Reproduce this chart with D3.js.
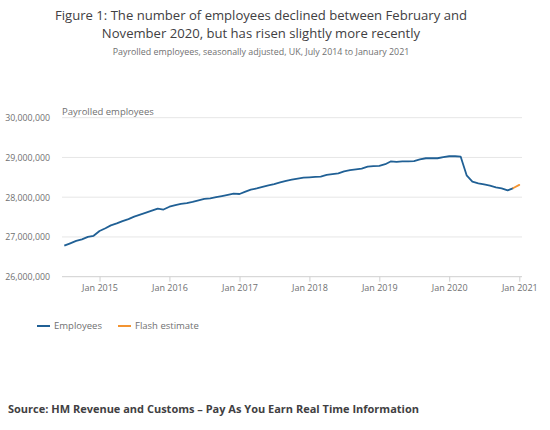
<!DOCTYPE html>
<html>
<head>
<meta charset="utf-8">
<script src="https://cdn.jsdelivr.net/npm/d3@7"></script>
<style>
  body { margin: 0; background: #fff; font-family: "Open Sans", sans-serif; }
  svg text { font-family: "Open Sans", sans-serif; }
</style>
</head>
<body>
<svg width="550" height="430"></svg>
<script>
// monthly payrolled employees, millions, Jul 2014 - Dec 2020
var startMonth = "2014-07";
var employees = [
  26.78, 26.84, 26.90, 26.94, 27.00, 27.03,                                     // 2014 Jul-Dec
  27.15, 27.22, 27.29, 27.34, 27.40, 27.45, 27.51, 27.56, 27.61, 27.66, 27.71, 27.69, // 2015
  27.76, 27.80, 27.83, 27.85, 27.88, 27.92, 27.96, 27.97, 28.00, 28.03, 28.06, 28.09, // 2016
  28.08, 28.14, 28.19, 28.22, 28.26, 28.30, 28.33, 28.37, 28.41, 28.44, 28.47, 28.49, // 2017
  28.50, 28.51, 28.52, 28.56, 28.58, 28.60, 28.65, 28.68, 28.70, 28.72, 28.77, 28.78, // 2018
  28.79, 28.83, 28.90, 28.89, 28.90, 28.90, 28.91, 28.95, 28.98, 28.98, 28.98, 29.01, // 2019
  29.03, 29.03, 29.02, 28.55, 28.39, 28.35, 28.32, 28.29, 28.25, 28.22, 28.17, 28.23  // 2020
];
// flash estimate: Dec 2020 -> Jan 2021
var flashMonths = ["2020-12", "2021-01"];
var flash = [28.23, 28.31];

var yTicks = [26000000, 27000000, 28000000, 29000000, 30000000];
var xTickYears = [2015, 2016, 2017, 2018, 2019, 2020, 2021];
var titleLines = [
  "Figure 1: The number of employees declined between February and",
  "November 2020, but has risen slightly more recently"
];
var subtitle = "Payrolled employees, seasonally adjusted, UK, July 2014 to January 2021";
var source = "Source: HM Revenue and Customs \u2013 Pay As You Earn Real Time Information";

var parseMonth = d3.timeParse("%Y-%m");
var t0 = parseMonth(startMonth);
var empData = employees.map(function(v, i) {
  return { date: d3.timeMonth.offset(t0, i), value: v * 1e6 };
});
var flashData = flash.map(function(v, i) {
  return { date: parseMonth(flashMonths[i]), value: v * 1e6 };
});

var svg = d3.select("svg");

var x = d3.scaleTime()
    .domain([t0, parseMonth("2021-01")])
    .range([64.3, 519.3]);
var y = d3.scaleLinear()
    .domain([26000000, 30000000])
    .range([276.7, 117.7]);

// titles
svg.selectAll(".title")
  .data(titleLines)
  .enter().append("text")
    .attr("class", "title")
    .attr("x", 261)
    .attr("y", function(d, i) { return 19.5 + i * 18; })
    .attr("text-anchor", "middle")
    .style("font-size", "13.1px")
    .style("fill", "#414042")
    .text(function(d) { return d; });

svg.append("text")
    .attr("x", 261)
    .attr("y", 54.5)
    .attr("text-anchor", "middle")
    .style("font-size", "8.9px")
    .style("fill", "#707071")
    .text(subtitle);

// gridlines
svg.selectAll(".grid")
  .data(yTicks)
  .enter().append("line")
    .attr("class", "grid")
    .attr("x1", 62)
    .attr("x2", 522)
    .attr("y1", function(d) { return y(d); })
    .attr("y2", function(d) { return y(d); })
    .style("stroke", function(d, i) { return i === 0 ? "#cfcfcf" : "#e6e6e6"; })
    .style("stroke-width", 1);

// y axis labels
var vAxis = d3.axisLeft(y).tickValues(yTicks).tickFormat(d3.format(",")).tickSize(0).tickPadding(0);
var gy = svg.append("g")
    .attr("transform", "translate(50,0)")
    .call(vAxis);
gy.select(".domain").remove();
gy.selectAll("text")
    .style("font-size", "8.8px")
    .style("fill", "#707071")
    .style("font-family", "Open Sans, sans-serif");

svg.append("text")
    .attr("x", 62)
    .attr("y", 115)
    .style("font-size", "9.5px")
    .style("fill", "#707071")
    .text("Payrolled employees");

// x axis
var hAxis = d3.axisBottom(x)
    .tickValues(xTickYears.map(function(yr) { return new Date(yr, 0, 1); }))
    .tickFormat(d3.timeFormat("Jan %Y"))
    .tickSize(5)
    .tickPadding(3);
var gx = svg.append("g")
    .attr("transform", "translate(0," + y(26000000) + ")")
    .call(hAxis);
gx.select(".domain").remove();
gx.selectAll("line").style("stroke", "#cfcfcf");
gx.selectAll("text")
    .style("font-size", "9px")
    .style("fill", "#707071")
    .style("font-family", "Open Sans, sans-serif");

// lines
var line = d3.line()
    .x(function(d) { return x(d.date); })
    .y(function(d) { return y(d.value); });

svg.append("path")
    .datum(empData)
    .attr("d", line)
    .style("fill", "none")
    .style("stroke", "#206095")
    .style("stroke-width", "1.8px")
    .style("stroke-linejoin", "round");

svg.append("path")
    .datum(flashData)
    .attr("d", line)
    .style("fill", "none")
    .style("stroke", "#f39431")
    .style("stroke-width", "1.8px")
    .style("stroke-linecap", "round");

// legend
var legend = [
  { name: "Employees", color: "#206095", x: 37 },
  { name: "Flash estimate", color: "#f39431", x: 118 }
];
var lg = svg.selectAll(".legend")
  .data(legend)
  .enter().append("g")
    .attr("class", "legend")
    .attr("transform", function(d) { return "translate(" + d.x + ",326)"; });
lg.append("line")
    .attr("x1", 0).attr("x2", 13)
    .style("stroke", function(d) { return d.color; })
    .style("stroke-width", 2);
lg.append("text")
    .attr("x", 17)
    .attr("y", 3.3)
    .style("font-size", "9.5px")
    .style("fill", "#707071")
    .text(function(d) { return d.name; });

// source
svg.append("text")
    .attr("x", 8)
    .attr("y", 413)
    .style("font-size", "11px")
    .style("font-weight", "bold")
    .style("fill", "#414042")
    .text(source);
</script>
</body>
</html>
